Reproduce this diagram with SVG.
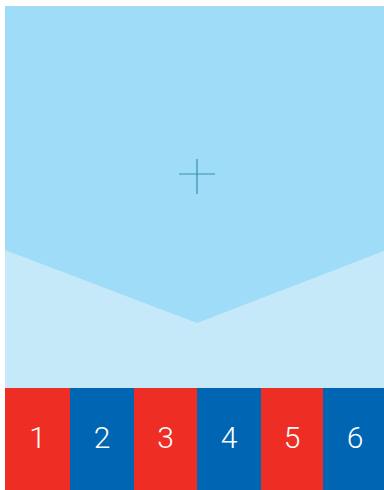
<svg xmlns="http://www.w3.org/2000/svg" width="384" height="490" viewBox="0 0 384 490">
<style>
.red{fill:#EE2E24}.blue{fill:#0066B3}
.num{font-family:Roboto,"Liberation Sans",sans-serif;font-weight:300;font-size:30px;fill:#fff;text-anchor:middle}
</style>
<rect x="0" y="0" width="384" height="490" fill="#fff"/>
<g id="background">
<rect x="5" y="6" width="379" height="382" fill="#C6E9F9"/>
<polygon points="5,6 384,6 384,251 197,323 5,250" fill="#9EDCF7"/>
<g id="cross" stroke="#3A8FA8" stroke-width="1.2">
<line x1="179" y1="174" x2="215" y2="174"/>
<line x1="197" y1="159" x2="197" y2="194"/>
</g>
</g>
<g id="n1"><rect class="red" x="5" y="388" width="65" height="102"/><text class="num" x="37.5" y="448">1</text></g>
<g id="n2"><rect class="blue" x="70" y="388" width="64" height="102"/><text class="num" x="102" y="448">2</text></g>
<g id="n3"><rect class="red" x="134" y="388" width="63" height="102"/><text class="num" x="165.5" y="448">3</text></g>
<g id="n4"><rect class="blue" x="197" y="388" width="64" height="102"/><text class="num" x="229" y="448">4</text></g>
<g id="n5"><rect class="red" x="261" y="388" width="62" height="102"/><text class="num" x="292" y="448">5</text></g>
<g id="n6"><rect class="blue" x="323" y="388" width="61" height="102"/><text class="num" x="355" y="448">6</text></g>
<g id="connectors"/>
</svg>
